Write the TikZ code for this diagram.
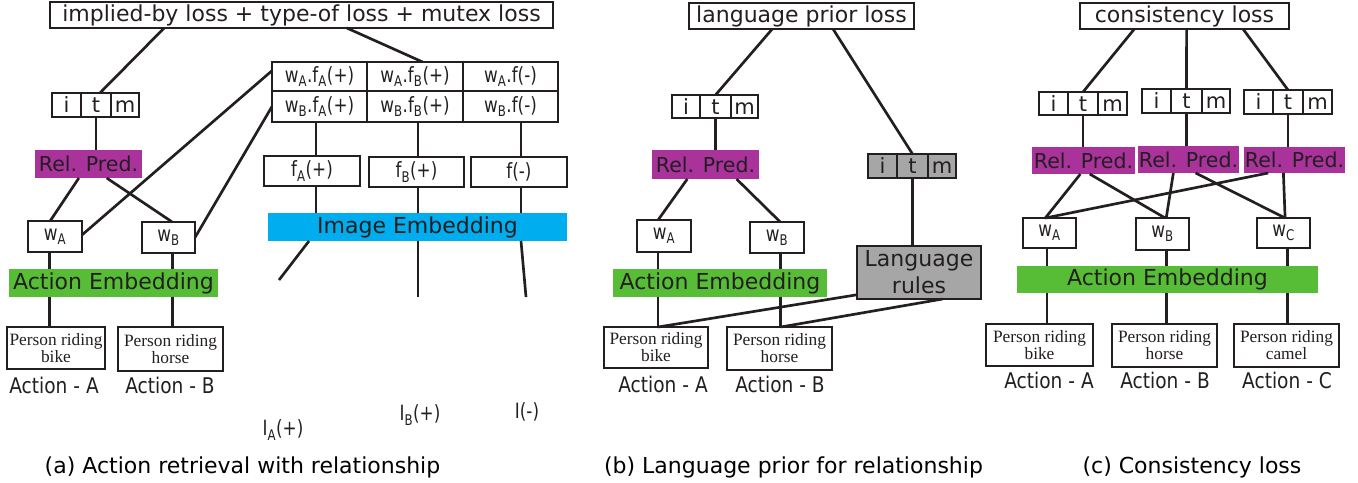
\documentclass[tikz,border=0pt]{standalone}
\usepackage{fontspec}
\setmainfont{DejaVu Sans}
\newfontfamily\tmsfont{Liberation Serif}
\usepackage{graphicx}
\usetikzlibrary{calc}
\definecolor{ink}{HTML}{231F20}
\definecolor{relc}{HTML}{A9329B}
\definecolor{embg}{HTML}{57BD37}
\definecolor{embc}{HTML}{00ADEE}
\definecolor{grayc}{HTML}{A6A6A6}
\newcommand\fsBig{\fontsize{16.5pt}{19pt}\selectfont}
\newcommand\fsMid{\fontsize{15.75pt}{18pt}\selectfont}
\newcommand\fsAct{\fontsize{16.2pt}{18pt}\selectfont}
\newcommand\fsRel{\fontsize{15.4pt}{18pt}\selectfont}
\newcommand\fsPer{\tmsfont\fontsize{13pt}{10.9pt}\selectfont}
\newcommand\fsLang{\fontsize{16.5pt}{20.25pt}\selectfont}
\newcommand\cnd[1]{\scalebox{0.8}[1]{#1}}
\newcommand\cndB[1]{\scalebox{0.86}[1]{#1}}
\tikzset{
  sz/.style 2 args={minimum width={(#1)*0.75pt}, minimum height={(#2)*0.75pt}},
  base/.style={inner sep=0pt, outer sep=0pt, text=ink, anchor=center},
  thinbox/.style={base, draw=ink, line width=1.1pt},
  thickbox/.style={base, draw=ink, line width=1.8pt},
  cellbox/.style={thinbox, font=\fsMid, text height=11.5pt, text depth=0pt},
  relbox/.style={base, fill=relc, font=\fsRel},
  embbox/.style={base, font=\fsBig},
  perbox/.style={thickbox, font=\fsPer, align=center},
  wbox/.style={thickbox, font=\fsMid},
  conn/.style={draw=ink, line width=2pt},
  lbl/.style={base, font=\fsMid},
  actlbl/.style={base, font=\fsAct},
  captext/.style={base, font=\fsBig, text=black}
}
\newcommand\itmcells[8]{%
  \node[cellbox,#8, sz={#3-#2}{#7-#6}] (#1i) at ({(#2+#3)/2},{(#6+#7)/2}) {i};
  \node[cellbox,#8, sz={#4-#3}{#7-#6}] (#1t) at ({(#3+#4)/2},{(#6+#7)/2}) {t};
  \node[cellbox,#8, sz={#5-#4}{#7-#6}] (#1m) at ({(#4+#5)/2},{(#6+#7)/2}) {m};}
\begin{document}
\begin{tikzpicture}[x=0.75pt,y=-0.75pt]
\useasboundingbox (0,0) rectangle (1358,482);
% ================= panel (a)
\node[thinbox, sz={503}{26}, font=\fsBig] (topA) at (301.5,15) {implied-by loss + type-of loss + mutex loss};
\itmcells{itmA}{52}{81}{111}{139}{93}{117}{}
\node[relbox, sz={107}{28}] (relA) at (88.5,164) {Rel. Pred.};
\node[wbox, sz={54}{31}] (wAa) at (55,236.5) {\cnd{w\textsubscript{A}}};
\node[wbox, sz={53}{31}] (wBa) at (168.5,237.5) {\cnd{w\textsubscript{B}}};
\node[embbox, fill=embg, sz={209}{28}] (aeA) at (113.5,283) {Action Embedding};
\node[perbox, sz={98}{42}] (bikeA) at (56,348) {Person riding\\bike};
\node[perbox, sz={105}{44}] (horseA) at (170.5,349) {Person riding\\horse};
\node[actlbl] (actAa) at (54,385) {\cndB{Action - A}};
\node[actlbl] (actBa) at (170,385) {\cndB{Action - B}};
\node[wbox, sz={95}{29}] (m11) at (319.5,76.5) {\cnd{w\textsubscript{A}.f\textsubscript{A}(+)}};
\node[wbox, sz={96}{29}] (m12) at (415,76.5) {\cnd{w\textsubscript{A}.f\textsubscript{B}(+)}};
\node[wbox, sz={95}{29}] (m13) at (510.5,76.5) {\cnd{w\textsubscript{A}.f(-)}};
\node[wbox, sz={95}{31}] (m21) at (319.5,106.5) {\cnd{w\textsubscript{B}.f\textsubscript{A}(+)}};
\node[wbox, sz={96}{31}] (m22) at (415,106.5) {\cnd{w\textsubscript{B}.f\textsubscript{B}(+)}};
\node[wbox, sz={95}{31}] (m23) at (510.5,106.5) {\cnd{w\textsubscript{B}.f(-)}};
\node[wbox, sz={96}{30}] (fA) at (312,171) {\cnd{f\textsubscript{A}(+)}};
\node[wbox, sz={95}{30}] (fB) at (416.5,172) {\cnd{f\textsubscript{B}(+)}};
\node[wbox, sz={96}{30}] (fN) at (519,172) {\cnd{f(-)}};
\node[embbox, fill=embc, sz={299}{28}] (ieA) at (417.5,227) {Image Embedding};
\node[lbl] (IA) at (283,430) {\cnd{I\textsubscript{A}(+)}};
\node[lbl] (IB) at (420,415) {\cnd{I\textsubscript{B}(+)}};
\node[lbl] (IN) at (527,412) {\cnd{I(-)}};
\node[captext] (capA) at (242.5,467) {(a) Action retrieval with relationship};
\draw[conn] ($(topA.south west)!0.227!(topA.south east)$) -- ($(itmAt.north west)!0.63!(itmAt.north east)$);
\draw[conn] ($(topA.south west)!0.59!(topA.south east)$) -- ($(m12.north west)!0.58!(m12.north east)$);
\draw[conn] (itmAt.south) -- (itmAt.south |- relA.north);
\draw[conn] ($(relA.south west)!0.41!(relA.south east)$) -- ($(wAa.north west)!0.41!(wAa.north east)$);
\draw[conn] ($(relA.south west)!0.67!(relA.south east)$) -- ($(wBa.north west)!0.57!(wBa.north east)$);
\draw[conn] ($(wAa.north east)!0.45!(wAa.south east)$) -- ($(m11.north west)!0.3!(m11.south west)$);
\draw[conn] (wBa.east) -- (m21.west);
\coordinate (xa1) at ($(wAa.south west)!0.4!(wAa.south east)$);
\coordinate (xa2) at ($(wBa.south west)!0.57!(wBa.south east)$);
\draw[conn] (xa1) -- (xa1 |- aeA.north);
\draw[conn] (xa1 |- aeA.south) -- (xa1 |- bikeA.north);
\draw[conn] (xa2) -- (xa2 |- aeA.north);
\draw[conn] (xa2 |- aeA.south) -- (xa2 |- horseA.north);
\coordinate (xc1) at (316,0);
\coordinate (xc2) at (418,0);
\coordinate (xc3) at (521,0);
\draw[conn] (xc1 |- m21.south) -- (xc1 |- fA.north);
\draw[conn] (xc2 |- m22.south) -- (xc2 |- fB.north);
\draw[conn] (xc3 |- m23.south) -- (xc3 |- fN.north);
\draw[conn] (xc1 |- fA.south) -- (xc1 |- ieA.north);
\draw[conn] (xc2 |- fB.south) -- (xc2 |- ieA.north);
\draw[conn] (xc3 |- fN.south) -- (xc3 |- ieA.north);
\coordinate (sa1) at (309,0);
\coordinate (ea1) at (279,280);
\coordinate (ea2) at (418,297);
\coordinate (ea3) at (526,297);
\draw[conn] (sa1 |- ieA.south) -- (ea1);
\draw[conn] (xc2 |- ieA.south) -- (ea2);
\draw[conn] (xc3 |- ieA.south) -- (ea3);
% ================= panel (b)
\node[thinbox, sz={225}{26}, font=\fsBig] (topB) at (801.5,16) {language prior loss};
\itmcells{itmB}{672}{700}{731}{758}{95}{118}{}
\node[relbox, sz={107}{29}] (relB) at (705.5,164.5) {Rel. Pred.};
\node[wbox, sz={54}{32}] (wAb) at (664,236) {\cnd{w\textsubscript{A}}};
\node[wbox, sz={54}{31}] (wBb) at (777,237.5) {\cnd{w\textsubscript{B}}};
\node[embbox, fill=embg, sz={214}{28}] (aeB) at (720,283) {Action Embedding};
\node[perbox, sz={104}{41}] (bikeB) at (656,347.5) {Person riding\\bike};
\node[perbox, sz={105}{43}] (horseB) at (779.5,348.5) {Person riding\\horse};
\itmcells{itmG}{868}{897}{928}{956}{154}{178}{fill=grayc}
\node[thinbox, fill=grayc, sz={124}{53}, font=\fsLang, align=center] (langB) at (919,272.5) {Language\\rules};
\node[actlbl] (actAb) at (663,384) {\cndB{Action - A}};
\node[actlbl] (actBb) at (780,384) {\cndB{Action - B}};
\node[captext] (capB) at (793.5,467) {(b) Language prior for relationship};
\draw[conn] ($(topB.south west)!0.37!(topB.south east)$) -- (itmBt.north);
\draw[conn] ($(topB.south west)!0.64!(topB.south east)$) -- (itmGt.north);
\draw[conn] (itmBt.south) -- (itmBt.south |- relB.north);
\draw[conn] ($(relB.south west)!0.33!(relB.south east)$) -- ($(wAb.north west)!0.39!(wAb.north east)$);
\draw[conn] ($(relB.south west)!0.79!(relB.south east)$) -- ($(wBb.north west)!0.56!(wBb.north east)$);
\coordinate (xb1) at ($(wAb.south west)!0.39!(wAb.south east)$);
\coordinate (xb2) at ($(wBb.south west)!0.57!(wBb.south east)$);
\draw[conn] (xb1) -- (xb1 |- aeB.north);
\draw[conn] (xb1 |- aeB.south) -- (xb1 |- bikeB.north);
\draw[conn] (xb2) -- (xb2 |- aeB.north);
\draw[conn] (xb2 |- aeB.south) -- (xb2 |- horseB.north);
\draw[conn] (itmGt.south) -- (itmGt.south |- langB.north);
\draw[conn] ($(langB.south west)!0.08!(langB.north west)$) -- (xb1 |- bikeB.north);
\draw[conn] ($(langB.south west)!0.69!(langB.south east)$) -- (xb2 |- horseB.north);
% ================= panel (c)
\node[thinbox, sz={209}{26}, font=\fsBig] (topC) at (1184.5,16) {consistency loss};
\itmcells{itmC}{1039}{1068}{1098}{1127}{92}{115}{}
\itmcells{itmD}{1142}{1171}{1202}{1230}{89}{113}{}
\itmcells{itmE}{1244}{1273}{1303}{1332}{90}{114}{}
\node[relbox, sz={103}{27}] (relC) at (1083.5,160.5) {Rel. Pred.};
\node[relbox, sz={101}{27}] (relD) at (1188.5,159.5) {Rel. Pred.};
\node[relbox, sz={101}{26}] (relE) at (1294.5,160) {Rel. Pred.};
\node[wbox, sz={53}{30}] (wAc) at (1049.5,233) {\cnd{w\textsubscript{A}}};
\node[wbox, sz={53}{32}] (wBc) at (1162.5,234) {\cnd{w\textsubscript{B}}};
\node[wbox, sz={53}{30}] (wCc) at (1283.5,233) {\cnd{w\textsubscript{C}}};
\node[embbox, fill=embg, sz={301}{27}] (aeC) at (1167.5,279.5) {Action Embedding};
\node[perbox, sz={107}{42}] (bikeC) at (1039.5,345) {Person riding\\bike};
\node[perbox, sz={105}{43}] (horseC) at (1164.5,345.5) {Person riding\\horse};
\node[perbox, sz={105}{43}] (camelC) at (1286.5,345.5) {Person riding\\camel};
\node[actlbl] (actAc) at (1049,380) {\cndB{Action - A}};
\node[actlbl] (actBc) at (1165,380) {\cndB{Action - B}};
\node[actlbl] (actCc) at (1287,380) {\cndB{Action - C}};
\node[captext] (capC) at (1192,467) {(c) Consistency loss};
\draw[conn] ($(topC.south west)!0.26!(topC.south east)$) -- (itmCt.north);
\draw[conn] ($(topC.south west)!0.51!(topC.south east)$) -- (itmDt.north);
\draw[conn] ($(topC.south west)!0.78!(topC.south east)$) -- (itmEt.north);
\draw[conn] (itmCt.south) -- (itmCt.south |- relC.north);
\draw[conn] (itmDt.south) -- (itmDt.south |- relD.north);
\draw[conn] (itmEt.south) -- (itmEt.south |- relE.north);
\draw[conn] ($(relC.south west)!0.47!(relC.south east)$) -- ($(wAc.north west)!0.42!(wAc.north east)$);
\draw[conn] ($(relC.south west)!0.56!(relC.south east)$) -- ($(wBc.north west)!0.55!(wBc.north east)$);
\draw[conn] ($(relD.south west)!0.35!(relD.south east)$) -- ($(wBc.north west)!0.57!(wBc.north east)$);
\draw[conn] ($(relD.south west)!0.57!(relD.south east)$) -- ($(wCc.north west)!0.53!(wCc.north east)$);
\draw[conn] ($(relE.south west)!0.24!(relE.south east)$) -- ($(wAc.north west)!0.42!(wAc.north east)$);
\draw[conn] ($(relE.south west)!0.39!(relE.south east)$) -- ($(wCc.north west)!0.53!(wCc.north east)$);
\coordinate (xq1) at ($(wAc.south west)!0.45!(wAc.south east)$);
\coordinate (xq2) at ($(wBc.south west)!0.57!(wBc.south east)$);
\coordinate (xq3) at ($(wCc.south west)!0.57!(wCc.south east)$);
\draw[conn] (xq1) -- (xq1 |- aeC.north);
\draw[conn] (xq1 |- aeC.south) -- (xq1 |- bikeC.north);
\draw[conn] (xq2) -- (xq2 |- aeC.north);
\draw[conn] (xq2 |- aeC.south) -- (xq2 |- horseC.north);
\draw[conn] (xq3) -- (xq3 |- aeC.north);
\draw[conn] (xq3 |- aeC.south) -- (xq3 |- camelC.north);
\end{tikzpicture}
\end{document}
